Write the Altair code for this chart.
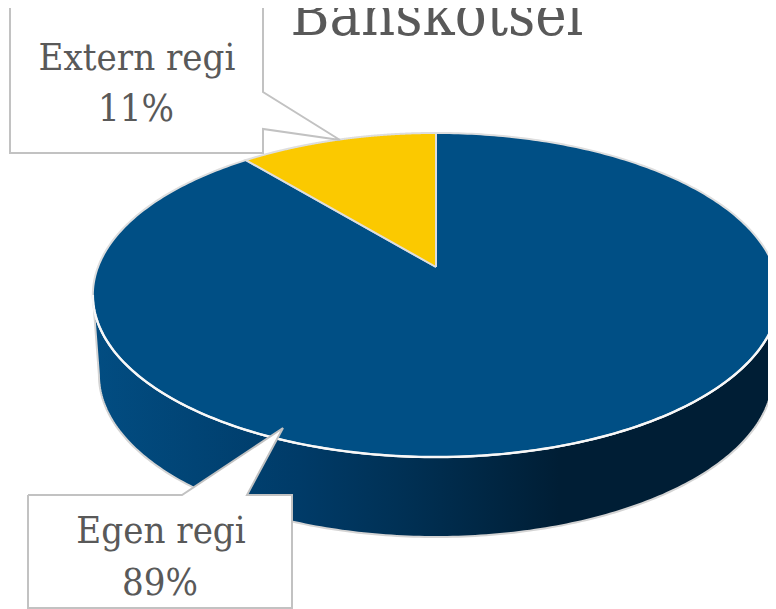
import numpy as np
import pandas as pd
import altair as alt

TITLE = "Banskotsel"
categories = ["Egen regi", "Extern regi"]
shares = [89, 11]
slice_colors = ["#004f85", "#fbc900"]
FONT = "DejaVu Serif Condensed"
TEXT = "#595959"

# canvas in reference pixels (page margin is 8px, page keeps the svg within 760px)
X0, X1, Y0, Y1 = 8, 768, 8, 609
x_s = alt.Scale(domain=[X0, X1], nice=False, zero=False)
y_s = alt.Scale(domain=[Y0, Y1], nice=False, zero=False, reverse=True)
K = 0.1728


def rim(theta, cy=267.0, b=338.0):
    """Perspective view of the pie's circular rim; theta is clockwise from the top."""
    d = 1 + K * np.cos(theta)
    return 436 + b * np.sin(theta) / d, cy - 157.2 * np.cos(theta) / d


def polygon(xs, ys, **mark):
    df = pd.DataFrame({"x": xs, "y": ys, "i": np.arange(len(xs))})
    return alt.Chart(df).mark_line(clip=True, **mark).encode(
        x=alt.X("x:Q", scale=x_s, axis=None),
        y=alt.Y("y:Q", scale=y_s, axis=None),
        order=alt.Order("i:Q"),
    )


def label(rows, **mark):
    df = pd.DataFrame(rows, columns=["x", "y", "t"])
    return alt.Chart(df).mark_text(font=FONT, color=TEXT, align="center",
                                   baseline="alphabetic", **mark).encode(
        x=alt.X("x:Q", scale=x_s, axis=None),
        y=alt.Y("y:Q", scale=y_s, axis=None),
        text="t:N",
    )


# front half of the rim: between its left and right extreme points
extreme = np.arccos(-K)
front = np.linspace(extreme, 2 * np.pi - extreme, 201)

# side wall
tx, ty = rim(front)
bx, by = rim(front, cy=347.0, b=332.0)
wall = polygon(
    np.r_[tx, bx[::-1], tx[0]], np.r_[ty, by[::-1], ty[0]],
    stroke="#d4d4d4", strokeWidth=2,
    fill=alt.Gradient(
        gradient="linear", x1=0, x2=1, y1=0, y2=0,
        stops=[
            alt.GradientStop(offset=0.0, color="#024d82"),
            alt.GradientStop(offset=0.3, color="#003b68"),
            alt.GradientStop(offset=0.47, color="#002f52"),
            alt.GradientStop(offset=0.68, color="#001e35"),
            alt.GradientStop(offset=1.0, color="#001e35"),
        ],
    ),
)

# top slices, first slice starts at 12 o'clock
edges = np.cumsum([0] + shares) / sum(shares) * 2 * np.pi
slices = []
for i in range(len(shares)):
    th = np.linspace(edges[i], edges[i + 1], 360)
    rx, ry = rim(th)
    slices.append(polygon(np.r_[436, rx, 436], np.r_[267, ry, 267],
                          fill=slice_colors[i], stroke="#dedede", strokeWidth=2))
front_edge = polygon(tx, ty, stroke="#f8f8f8", strokeWidth=2.4)

# callouts
box_a = polygon([10, 263, 263, 340, 263, 263, 10, 10], [5, 5, 92, 140, 129, 153, 153, 5],
                fill="white", stroke="#c2c2c2", strokeWidth=2)
box_b = polygon([28, 182, 283, 247, 292, 292, 28, 28], [495, 495, 428, 495, 495, 608, 608, 495],
                fill="white", stroke="#c2c2c2", strokeWidth=2)

texts = label([
    (137, 70, categories[1]), (136, 121, f"{shares[1]}%"),
    (161, 543, categories[0]), (160, 595, f"{shares[0]}%"),
], fontSize=38)
title = label([(437, 35, TITLE)], fontSize=59)

chart = alt.layer(wall, *slices, front_edge, box_a, box_b, texts, title).properties(
    width=X1 - X0, height=Y1 - Y0,
    padding=0, autosize=alt.AutoSizeParams(type="none"),
).configure_view(stroke=None)

chart.save("out.html", embed_options={"renderer": "svg", "actions": False})
